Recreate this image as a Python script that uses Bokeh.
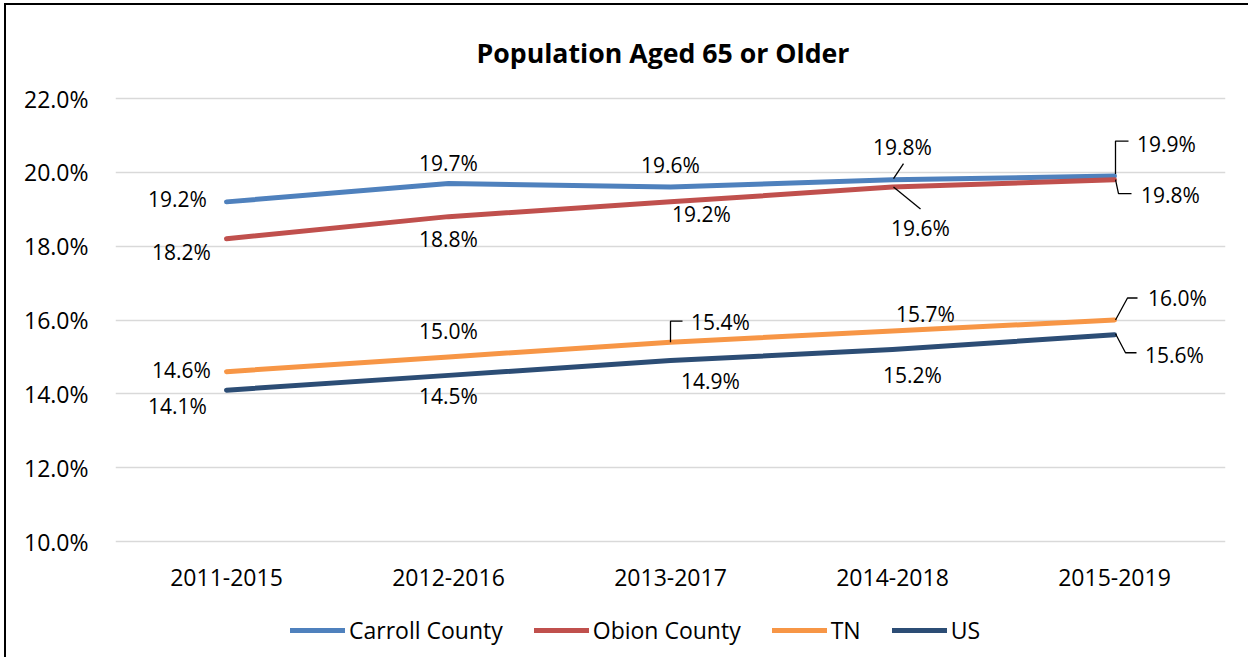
from bokeh.plotting import figure
from bokeh.models import (FactorRange, Range1d, FixedTicker, PrintfTickFormatter,
                          Legend, LegendItem, ColumnDataSource)
from bokeh.core.properties import value
from bokeh.embed import file_html
from bokeh.resources import INLINE

# ---------------- data ----------------
title = "Population Aged 65 or Older"
periods = ["2011-2015", "2012-2016", "2013-2017", "2014-2018", "2015-2019"]
carroll = [19.2, 19.7, 19.6, 19.8, 19.9]
obion = [18.2, 18.8, 19.2, 19.6, 19.8]
tn = [14.6, 15.0, 15.4, 15.7, 16.0]
us = [14.1, 14.5, 14.9, 15.2, 15.6]
series_names = ["Carroll County", "Obion County", "TN", "US"]
y_ticks = [10, 12, 14, 16, 18, 20, 22]

# ---------------- styles ----------------
colors = ["#4F81BD", "#C0504D", "#F79646", "#2C4D75"]
FONT = "Open Sans"
# label offsets in px (dx right, dy down) relative to each point
label_offsets = [
    [(-49, -3), (0, -20), (0, -22), (10, -33), (52, -32)],
    [(-45, 13), (0, 22), (31, 12), (28, 41), (56, 15)],
    [(-45, -2), (0, -26), (50, -20), (33, -17), (63, -22)],
    [(-49, 16), (0, 21), (40, 20), (20, 25), (60, 20)],
]
# leader lines: (series index, point index) -> list of px offsets (dx, dy down)
leaders = {
    (0, 3): [(1, -1), (11, -16)],
    (0, 4): [(1, -2), (1, -35), (14, -35)],
    (1, 3): [(1, 0), (28, 22)],
    (1, 4): [(1, 0), (4, 14), (17, 14)],
    (2, 2): [(0, 0), (0, -21), (12, -21)],
    (2, 4): [(1, 0), (13, -22), (23, -22)],
    (3, 4): [(1, -1), (11, 18), (22, 18)],
}

FRAME_W = 1110
AXIS_H = 443            # px between 10% and 22%
EXTRA_H = 111           # px below the 10% line (category labels + legend)
TOP_H = 88              # px above the 22% line (title)
Y0, Y1 = 10, 22
px_x = FRAME_W / len(periods)          # px per category
px_y = AXIS_H / (Y1 - Y0)              # px per percentage point

p = figure(x_range=FactorRange(*periods),
           y_range=Range1d(Y0 - EXTRA_H / px_y, Y1 + TOP_H / px_y),
           frame_width=FRAME_W, frame_height=AXIS_H + EXTRA_H + TOP_H,
           min_border_left=109, min_border_top=5,
           min_border_right=23, min_border_bottom=5,
           x_axis_location=None,
           output_backend="svg", toolbar_location=None,
           background_fill_color="white", border_fill_color="white")
p.styles = {"border-top": "2px solid black", "border-left": "2px solid black",
            "margin-left": "4px", "margin-top": "3px"}
p.outline_line_color = None

# chart title (drawn in the plot area, above the 22% line)
p.text(x=[periods[2]], y=[Y1], text=[title], x_offset=-7.5, y_offset=-46,
       text_align="center", text_baseline="middle",
       text_font=value(FONT), text_font_size="26.7px", text_font_style="bold",
       text_color="black")

p.xgrid.grid_line_color = None
p.ygrid.grid_line_color = "#D9D9D9"
p.ygrid.grid_line_width = 1.5

p.yaxis.ticker = FixedTicker(ticks=y_ticks)
p.yaxis.formatter = PrintfTickFormatter(format="%.1f%%")
ax = p.yaxis[0]
ax.axis_line_color = None
ax.major_tick_line_color = None
ax.minor_tick_line_color = None
ax.major_tick_out = 0
ax.major_tick_in = 0
ax.major_label_text_font = FONT
ax.major_label_text_font_size = "23px"
ax.major_label_text_color = "black"
ax.major_label_standoff = 27

# category labels (x axis)
p.text(x=periods, y=[Y0] * len(periods), text=periods, y_offset=36,
       text_align="center", text_baseline="middle",
       text_font=value(FONT), text_font_size="23px", text_color="black")

all_series = [carroll, obion, tn, us]
xs_num = [i + 0.5 for i in range(len(periods))]
items = []
for si, (name, vals, col) in enumerate(zip(series_names, all_series, colors)):
    r = p.line(periods, vals, line_color=col, line_width=5,
               line_cap="round", line_join="round")
    items.append(LegendItem(label=name, renderers=[r]))

# leader lines
for (si, pi), pts in leaders.items():
    xv = xs_num[pi]
    yv = all_series[si][pi]
    lx = [xv + dx / px_x for dx, dy in pts]
    ly = [yv - dy / px_y for dx, dy in pts]
    p.line(lx, ly, line_color="black", line_width=1.3)

# data labels
for si, vals in enumerate(all_series):
    src = ColumnDataSource(dict(
        x=periods, y=vals,
        t=["%.1f%%" % v for v in vals],
        dx=[o[0] for o in label_offsets[si]],
        dy=[o[1] for o in label_offsets[si]],
    ))
    p.text("x", "y", text="t", source=src, x_offset="dx", y_offset="dy",
           text_align="center", text_baseline="middle",
           text_font=value(FONT), text_font_size="21px", text_color="black")

legend = Legend(items=items, orientation="horizontal",
                location=(175, 6),
                glyph_width=55, glyph_height=20, label_standoff=4, spacing=31,
                padding=0, margin=0,
                label_text_font=FONT, label_text_font_size="23px",
                label_text_color="black",
                border_line_color=None, background_fill_alpha=0)
p.add_layout(legend, "center")

open("out.html", "w").write(file_html(p, INLINE))
